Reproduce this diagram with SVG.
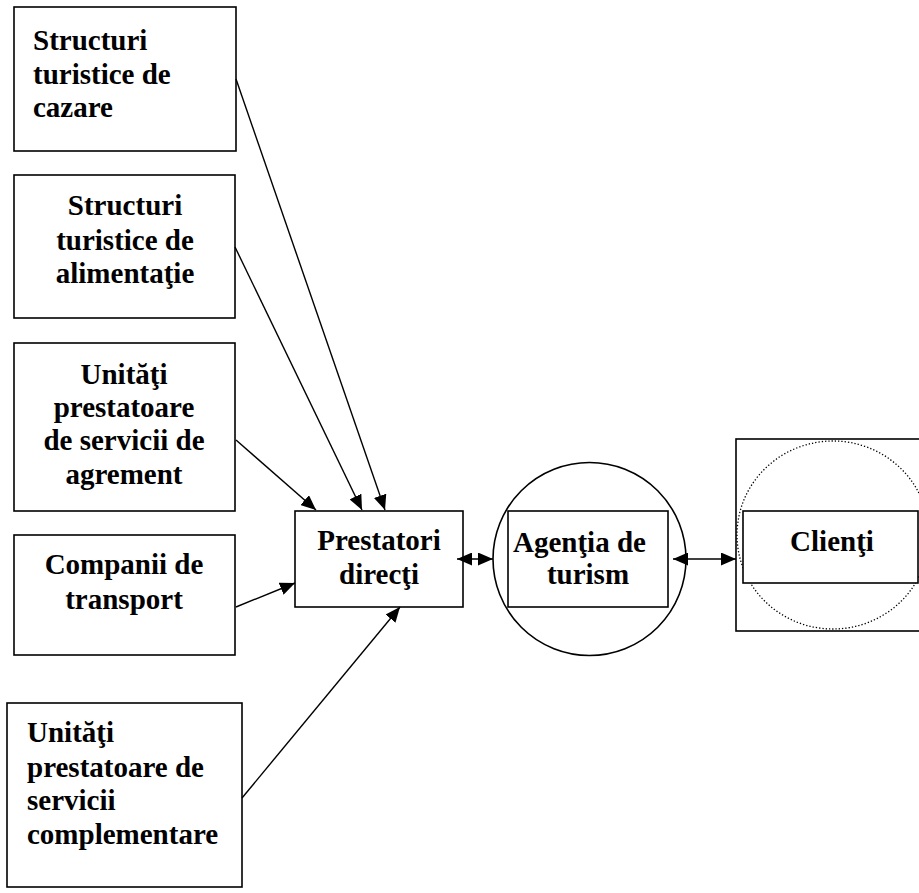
<svg xmlns="http://www.w3.org/2000/svg" width="919" height="893" viewBox="0 0 919 893">
<style>
.box{fill:#fff;stroke:#000;stroke-width:1.6}
.t{font-family:"Liberation Serif","Times New Roman",serif;font-weight:bold;font-size:29px;fill:#000}
.c{text-anchor:middle}
.ln{stroke:#000;stroke-width:1.4;fill:none}
</style>
<defs>
<marker id="ah" viewBox="0 0 15 13" refX="15" refY="6.5" markerWidth="15" markerHeight="13" markerUnits="userSpaceOnUse" orient="auto-start-reverse">
<path d="M0,0 L15,6.5 L0,13 z" fill="#000"/>
</marker>
</defs>
<rect width="919" height="893" fill="#fff"/>
<g id="n1">
<rect class="box" x="14" y="7" width="222" height="144"/>
<text class="t" x="33" y="50">Structuri</text>
<text class="t" x="33" y="84">turistice de</text>
<text class="t" x="33" y="117">cazare</text>
</g>
<g id="n2">
<rect class="box" x="14" y="175" width="221" height="143"/>
<text class="t c" x="125" y="215">Structuri</text>
<text class="t c" x="125" y="250">turistice de</text>
<text class="t c" x="125" y="283">alimentaţie</text>
</g>
<g id="n3">
<rect class="box" x="14" y="343" width="221" height="168"/>
<text class="t c" x="124" y="384">Unităţi</text>
<text class="t c" x="124" y="417">prestatoare</text>
<text class="t c" x="124" y="450">de servicii de</text>
<text class="t c" x="124" y="484">agrement</text>
</g>
<g id="n4">
<rect class="box" x="14" y="535" width="221" height="120"/>
<text class="t c" x="124" y="574">Companii de</text>
<text class="t c" x="124" y="609">transport</text>
</g>
<g id="n5">
<rect class="box" x="7" y="703" width="235" height="184"/>
<text class="t" x="27" y="742">Unităţi</text>
<text class="t" x="27" y="777">prestatoare de</text>
<text class="t" x="27" y="810">servicii</text>
<text class="t" x="27" y="844">complementare</text>
</g>
<g id="prestatori">
<rect class="box" x="295" y="511" width="168" height="96"/>
<text class="t c" x="379" y="550">Prestatori</text>
<text class="t c" x="379" y="584">direcţi</text>
</g>
<g id="agentia">
<circle cx="589.5" cy="559" r="96.5" fill="#fff" stroke="#000" stroke-width="1.6"/>
<rect x="508" y="511" width="160" height="96" fill="none" stroke="#000" stroke-width="1.6"/>
<text class="t" x="513" y="552">Agenţia de</text>
<text class="t c" x="588" y="584">turism</text>
</g>
<g id="clienti">
<rect class="box" x="736" y="439" width="186" height="192"/>
<ellipse cx="833" cy="535" rx="96" ry="94" fill="none" stroke="#000" stroke-width="1.3" stroke-dasharray="1.3 2"/>
<rect class="box" x="743" y="511" width="175" height="72"/>
<text class="t c" x="832" y="551">Clienţi</text>
</g>
<g id="connectors">
<line class="ln" x1="236" y1="79" x2="385" y2="510" marker-end="url(#ah)"/>
<line class="ln" x1="235" y1="247" x2="362" y2="510" marker-end="url(#ah)"/>
<line class="ln" x1="236" y1="440" x2="316" y2="510" marker-end="url(#ah)"/>
<line class="ln" x1="236" y1="607" x2="295" y2="583" marker-end="url(#ah)"/>
<line class="ln" x1="242" y1="798" x2="400" y2="607" marker-end="url(#ah)"/>
<line class="ln" x1="457" y1="559" x2="493" y2="559" marker-start="url(#ah)" marker-end="url(#ah)"/>
<line class="ln" x1="673" y1="559" x2="736" y2="559" marker-start="url(#ah)" marker-end="url(#ah)"/>
</g>
</svg>
